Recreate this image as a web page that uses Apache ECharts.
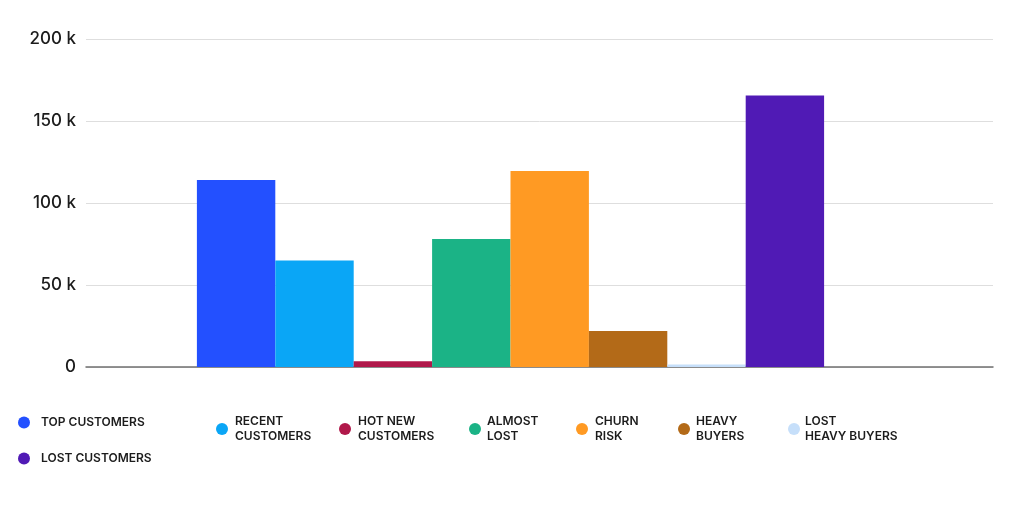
<!DOCTYPE html>
<html lang="en">
<head>
    <meta charset="UTF-8">
    <title>Customer segments</title>
    <style>
        html, body { margin: 0; padding: 0; background: #fff; }
        #main { width: 1024px; height: 512px; }
    </style>
</head>
<body>
<div id="main"></div>
<script src="https://cdn.jsdelivr.net/npm/echarts@6/dist/echarts.min.js"></script>
<script>
    // data
    var segments = ['TOP CUSTOMERS', 'RECENT CUSTOMERS', 'HOT NEW CUSTOMERS', 'ALMOST LOST',
        'CHURN RISK', 'HEAVY BUYERS', 'LOST HEAVY BUYERS', 'LOST CUSTOMERS'];
    var legendLabels = ['TOP CUSTOMERS', 'RECENT\nCUSTOMERS', 'HOT NEW\nCUSTOMERS', 'ALMOST\nLOST',
        'CHURN\nRISK', 'HEAVY\nBUYERS', 'LOST\nHEAVY BUYERS', 'LOST CUSTOMERS'];
    var counts = [114000, 65000, 3500, 78000, 119500, 22000, 1500, 165500];
    var yTicks = [0, 50000, 100000, 150000, 200000];

    var colors = ['#2350FF', '#0AA6F6', '#B0184A', '#1BB386', '#FF9A23', '#B36A18', '#C6DFFA', '#501AB5'];
    // legend spot for each item: [left, top, gap between dot and text]
    var legendPos = [[18, 415, 6], [216, 414, 2], [339, 414, 2], [469, 414, 1], [576, 414, 2],
        [678, 414, 1], [788, 414, 0], [18, 451, 6]];

    var myChart = echarts.init(document.getElementById('main'));

    var series = [];
    var legends = [];
    for (var i = 0; i < segments.length; i++) {
        series.push({
            name: segments[i],
            type: 'bar',
            xAxisIndex: 1,
            yAxisIndex: 1,
            data: [counts[i]],
            barWidth: 78.4,
            barGap: '0%',
            itemStyle: { color: colors[i] }
        });
        legends.push({
            data: [segments[i]],
            left: legendPos[i][0],
            top: legendPos[i][1],
            icon: 'circle',
            itemWidth: 12,
            itemHeight: 12,
            itemGap: 0,
            padding: 0,
            selectedMode: false,
            formatter: (function (lbl) { return function () { return lbl; }; })(legendLabels[i]),
            textStyle: {
                fontFamily: 'Inter',
                fontSize: 12,
                fontWeight: 600,
                color: '#1c1c1c',
                lineHeight: 15,
                padding: [0, 0, 0, legendPos[i][2]]
            }
        });
    }

    myChart.setOption({
        animation: false,
        backgroundColor: '#fff',
        legend: legends,
        grid: [
            { left: 86, right: 31, top: 39, bottom: 145 },
            { left: 86, right: 89, top: 39, bottom: 145 }
        ],
        xAxis: [
            {
                type: 'category', gridIndex: 0, data: [''],
                axisLine: { show: true, lineStyle: { color: '#707070', width: 1.5 } },
                axisTick: { show: false }, axisLabel: { show: false }
            },
            {
                type: 'category', gridIndex: 1, data: [''],
                axisLine: { show: false }, axisTick: { show: false }, axisLabel: { show: false }
            }
        ],
        yAxis: [
            {
                type: 'value', gridIndex: 0,
                min: yTicks[0], max: yTicks[yTicks.length - 1], interval: yTicks[1] - yTicks[0],
                axisLine: { show: false }, axisTick: { show: false },
                splitLine: { lineStyle: { color: '#dedede', width: 1 } },
                axisLabel: {
                    margin: 10,
                    fontFamily: 'Inter',
                    fontSize: 17,
                    fontWeight: 500,
                    color: '#1c1c1c',
                    formatter: function (v) { return v === 0 ? '0' : (v / 1000) + ' k'; }
                }
            },
            {
                type: 'value', gridIndex: 1,
                min: yTicks[0], max: yTicks[yTicks.length - 1],
                show: false, splitLine: { show: false }
            }
        ],
        series: series
    });
</script>
</body>
</html>
